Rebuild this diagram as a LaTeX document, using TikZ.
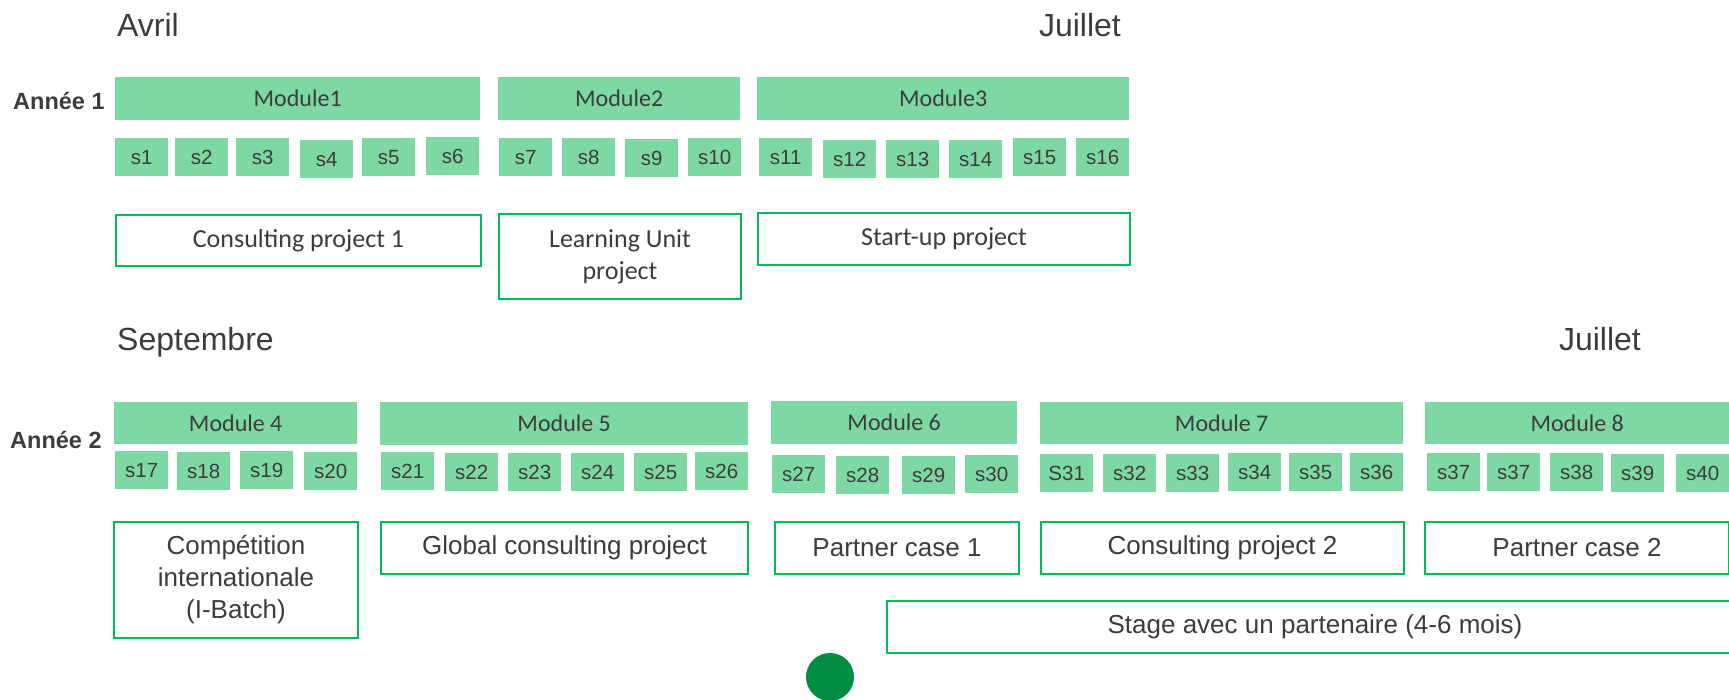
\documentclass[tikz,border=0pt]{standalone}
\usepackage{fontspec}
\setmainfont{Liberation Sans}
\newfontfamily\calib{Carlito}
\definecolor{wkfill}{RGB}{126,216,164}
\definecolor{bordergreen}{RGB}{0,190,85}
\definecolor{dotgreen}{RGB}{0,140,65}
\definecolor{txt}{RGB}{60,60,60}
\begin{document}
\begin{tikzpicture}[x=1pt,y=-1pt,
  wk/.style={fill=wkfill, draw=none, minimum width=53pt, minimum height=38pt, inner sep=0pt, anchor=north west, text=txt, font=\fontsize{20.5}{24}\selectfont},
  mod/.style={fill=wkfill, draw=none, minimum height=43pt, inner sep=0pt, anchor=north west, text=txt, font=\calib\fontsize{24}{28}\selectfont},
  proja/.style={draw=bordergreen, line width=2pt, fill=white, inner sep=0pt, anchor=north west, text=txt, align=center, font=\calib\fontsize{26}{32}\selectfont},
  projb/.style={draw=bordergreen, line width=2pt, fill=white, inner sep=0pt, anchor=north west, text=txt, align=center, font=\fontsize{26}{32}\selectfont},
  month/.style={inner sep=0pt, text=txt, font=\fontsize{32}{36}\selectfont},
  yearlbl/.style={inner sep=0pt, text=txt, font=\bfseries\fontsize{23.5}{28}\selectfont}]
\useasboundingbox (0,0) rectangle (1729,700);
\clip (0,0) rectangle (1729,700);
% months
\node[month, anchor=base west] (avril) at (117,37) {Avril};
\node[month, anchor=base east] (juil1) at (1121,37) {Juillet};
\node[month, anchor=base west] (sept) at (117,351) {Septembre};
\node[month, anchor=base east] (juil2) at (1641,351) {Juillet};
% years
\node[yearlbl, anchor=base west] (an1) at (13,110) {Année 1};
\node[yearlbl, anchor=base west] (an2) at (10,448) {Année 2};
% Year 1 modules
\node[mod, minimum width=365pt] (m1) at (115,77) {Module1};
\node[mod, minimum width=242pt] (m2) at (498,77) {Module2};
\node[mod, minimum width=372pt] (m3) at (757,77) {Module3};
% Year 1 weeks
\node[wk] (s1) at (115,138) {s1};
\node[wk] (s2) at (175,138) {s2};
\node[wk] (s3) at (236,138) {s3};
\node[wk] (s4) at (300,140) {s4};
\node[wk] (s5) at (362,138) {s5};
\node[wk] (s6) at (426,137) {s6};
\node[wk] (s7) at (499,138) {s7};
\node[wk] (s8) at (562,138) {s8};
\node[wk] (s9) at (625,139) {s9};
\node[wk] (s10) at (688,138) {s10};
\node[wk] (s11) at (759,138) {s11};
\node[wk] (s12) at (823,140) {s12};
\node[wk] (s13) at (886,140) {s13};
\node[wk] (s14) at (949,140) {s14};
\node[wk] (s15) at (1013,138) {s15};
\node[wk] (s16) at (1076,138) {s16};
% Year 1 projects
\node[proja, minimum width=365pt, minimum height=51pt] (p1) at (115,214) {Consulting project 1};
\node[proja, minimum width=242pt, minimum height=85pt] (p2) at (498,213) {Learning Unit\\project};
\node[proja, minimum width=372pt, minimum height=52pt] (p3) at (757,212) {Start-up project};
% Year 2 modules
\node[mod, minimum width=243pt, minimum height=42pt] (m4) at (114,402) {Module 4};
\node[mod, minimum width=368pt] (m5) at (380,402) {Module 5};
\node[mod, minimum width=246pt] (m6) at (771,401) {Module 6};
\node[mod, minimum width=363pt, minimum height=42pt] (m7) at (1040,402) {Module 7};
\node[mod, minimum width=304pt, minimum height=42pt] (m8) at (1425,402) {Module 8};
% Year 2 weeks
\node[wk] (s17) at (115,451) {s17};
\node[wk] (s18) at (177,452) {s18};
\node[wk] (s19) at (240,451) {s19};
\node[wk] (s20) at (304,452) {s20};
\node[wk] (s21) at (381,452) {s21};
\node[wk] (s22) at (445,453) {s22};
\node[wk] (s23) at (508,453) {s23};
\node[wk] (s24) at (571,453) {s24};
\node[wk] (s25) at (634,453) {s25};
\node[wk] (s26) at (695,452) {s26};
\node[wk] (s27) at (772,455) {s27};
\node[wk] (s28) at (836,456) {s28};
\node[wk] (s29) at (902,456) {s29};
\node[wk] (s30) at (965,455) {s30};
\node[wk] (s31) at (1040,454) {S31};
\node[wk] (s32) at (1103,454) {s32};
\node[wk] (s33) at (1166,454) {s33};
\node[wk] (s34) at (1228,453) {s34};
\node[wk] (s35) at (1289,453) {s35};
\node[wk] (s36) at (1350,453) {s36};
\node[wk] (s37a) at (1427,453) {s37};
\node[wk] (s37b) at (1487,453) {s37};
\node[wk] (s38) at (1550,453) {s38};
\node[wk] (s39) at (1611,454) {s39};
\node[wk] (s40) at (1676,454) {s40};
% Year 2 projects
\node[projb, minimum width=244pt, minimum height=116pt] (p4) at (113,521) {Compétition\\internationale\\(I-Batch)};
\node[projb, minimum width=367pt, minimum height=52pt] (p5) at (380,521) {Global consulting project};
\node[projb, minimum width=244pt, minimum height=52pt] (p6) at (774,521) {Partner case 1};
\node[projb, minimum width=363pt, minimum height=52pt] (p7) at (1040,521) {Consulting project 2};
\node[projb, minimum width=304pt, minimum height=52pt] (p8) at (1424,521) {Partner case 2};
\node[projb, minimum width=856pt, minimum height=52pt] (stage) at (886,600) {Stage avec un partenaire (4-6 mois)};
% dot
\node[circle, fill=dotgreen, minimum size=48pt, inner sep=0pt] (dot) at (830,677) {};
\end{tikzpicture}
\end{document}
